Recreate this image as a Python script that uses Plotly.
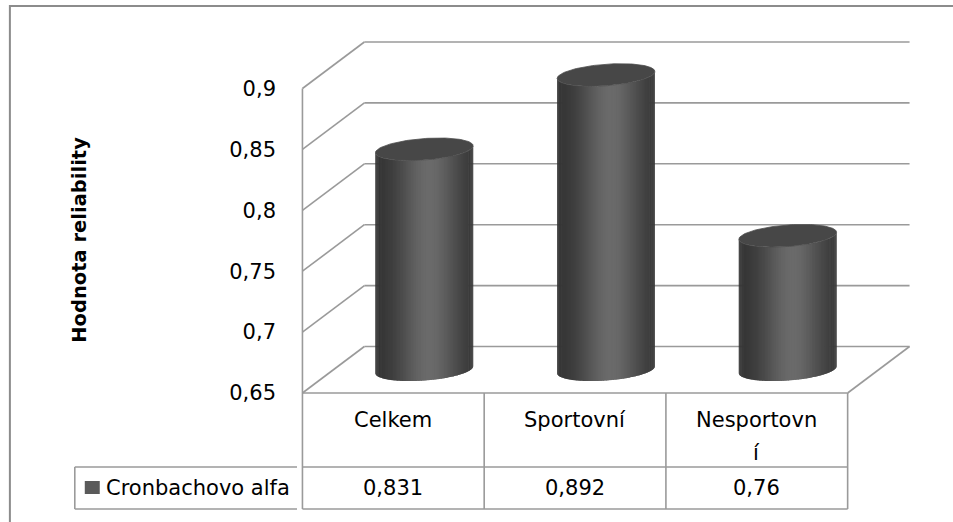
import numpy as np
import plotly.graph_objects as go

# ---------------- data ----------------
categories = ["Celkem", "Sportovní", "Nesportovní"]
series_name = "Cronbachovo alfa"
values = [0.831, 0.892, 0.76]
y_ticks = [0.65, 0.70, 0.75, 0.80, 0.85, 0.90]
axis_title = "Hodnota reliability"

# ---------------- layout constants ----------------
W, H = 953, 522
FRONT_X0_PX = 302          # pixel of category axis start (x = 0)
FRONT_FLOOR_PX = 393       # pixel of front floor (y = 0.65)
PX_PER_CAT = 182.0
PX_PER_UNIT = 1218.0
DX = 62 / PX_PER_CAT       # depth offset in category units
DY = 46.5 / PX_PER_UNIT    # depth offset in value units
Y_FLOOR = y_ticks[0]
Y_TOP = y_ticks[-1]
N = len(categories)

X_RANGE = [-0.03, N + DX + 0.03]
PLOT_L = FRONT_X0_PX + X_RANGE[0] * PX_PER_CAT
PLOT_R = FRONT_X0_PX + X_RANGE[1] * PX_PER_CAT
PLOT_T, PLOT_B = 28, 513
Y_RANGE = [Y_FLOOR - (PLOT_B - FRONT_FLOOR_PX) / PX_PER_UNIT,
           Y_FLOOR + (FRONT_FLOOR_PX - PLOT_T) / PX_PER_UNIT]

ROW1_BOTTOM = Y_FLOOR - 74 / PX_PER_UNIT
ROW2_BOTTOM = Y_FLOOR - 116 / PX_PER_UNIT
LABEL_LINE1 = Y_FLOOR - 27 / PX_PER_UNIT
LABEL_LINE_STEP = 33 / PX_PER_UNIT


def pxx(p):
    return (p - PLOT_L) / (PLOT_R - PLOT_L)


def pxy(p):
    return (PLOT_B - p) / (PLOT_B - PLOT_T)


GRID = "#9a9a9a"
LW = 1.6
FONT = "DejaVu Sans"
FS = 21

shapes = []


def line(x0, y0, x1, y1, xref="x", yref="y", color=GRID, width=LW):
    shapes.append(dict(type="line", x0=x0, y0=y0, x1=x1, y1=y1, xref=xref, yref=yref,
                       line=dict(color=color, width=width), layer="below"))


# back wall gridlines and side wall diagonals
for v in y_ticks:
    line(DX, v + DY, N + DX, v + DY)
    line(0, v, DX, v + DY)
# floor right edge
line(N, Y_FLOOR, N + DX, Y_FLOOR + DY)
# front axis line (down through table)
line(0, Y_TOP, 0, ROW2_BOTTOM)
# table
line(0, Y_FLOOR, N, Y_FLOOR)
line(0, ROW1_BOTTOM, N, ROW1_BOTTOM)
line(0, ROW2_BOTTOM, N, ROW2_BOTTOM)
for i in range(1, N + 1):
    line(i, Y_FLOOR, i, ROW2_BOTTOM)
leg_left = pxx(74)
line(leg_left, ROW1_BOTTOM, 0, ROW1_BOTTOM, xref="paper")
line(leg_left, ROW2_BOTTOM, 0, ROW2_BOTTOM, xref="paper")
line(leg_left, ROW1_BOTTOM, leg_left, ROW2_BOTTOM, xref="paper")
# legend key
shapes.append(dict(type="rect", xref="paper", yref="paper",
                   x0=pxx(84), x1=pxx(99), y0=pxy(494), y1=pxy(481),
                   fillcolor="#5a5a5a", line=dict(width=0)))
# outer frame
shapes.append(dict(type="path", xref="paper", yref="paper",
                   path=f"M {pxx(9)},{pxy(540)} L {pxx(9)},{pxy(6)} L {pxx(970)},{pxy(6)}",
                   line=dict(color="#8c8c8c", width=2)))

# ---------------- cylinders ----------------
RX = 0.256
RD = 0.243
phi = np.arctan2(RD * DX, RX)


def ell(i, v, t):
    d = 0.5 + RD * np.sin(t)
    return i + 0.5 + RX * np.cos(t) + d * DX, v + d * DY


traces = []
NS = 90
dark, light = 0x31, 0x6a
step = np.pi / NS
for k in range(NS):
    t0 = np.pi + phi + k * step
    t1 = min(t0 + 1.8 * step, 2 * np.pi + phi)
    tm = t0 + 0.5 * step
    u = (1 + np.cos(tm - phi)) / 2
    f = np.exp(-((u - 0.55) / 0.32) ** 2)
    c = int(round(dark + (light - dark) * f))
    col = f"rgb({c},{c},{c})"
    xs, ys = [], []
    for i, v in enumerate(values):
        sub = np.linspace(t0, t1, 3)
        pts = [ell(i, Y_FLOOR, s) for s in sub] + [ell(i, v, s) for s in sub[::-1]]
        for xx, yy in pts:
            xs.append(xx)
            ys.append(yy)
        xs.append(pts[0][0])
        ys.append(pts[0][1])
        xs.append(None)
        ys.append(None)
    traces.append(go.Scatter(x=xs, y=ys, mode="lines", fill="toself", fillcolor=col,
                             line=dict(width=0), hoverinfo="skip", showlegend=False))

tt = np.linspace(0, 2 * np.pi, 140)
cx, cy = [], []
for i, v in enumerate(values):
    xx, yy = ell(i, v, tt)
    cx += list(xx) + [None]
    cy += list(yy) + [None]
traces.append(go.Scatter(x=cx, y=cy, mode="lines", fill="toself", fillcolor="#474747",
                         line=dict(color="#4d4d4d", width=0.8), hoverinfo="skip",
                         showlegend=False, name=series_name))

fig = go.Figure(traces)

# ---------------- annotations ----------------
def fmt(v):
    s = f"{v:.3f}".rstrip("0").rstrip(".")
    return s.replace(".", ",")


def wrap(s, n=10):
    return [s[j:j + n] for j in range(0, len(s), n)]


ann = []
for i, (cat, v) in enumerate(zip(categories, values)):
    for li, part in enumerate(wrap(cat)):
        ann.append(dict(x=i + 0.5, y=LABEL_LINE1 - li * LABEL_LINE_STEP, xref="x", yref="y",
                        text=part, showarrow=False, yanchor="middle", xanchor="center",
                        font=dict(family=FONT, size=FS, color="black")))
    ann.append(dict(x=i + 0.5, y=(ROW1_BOTTOM + ROW2_BOTTOM) / 2, xref="x", yref="y",
                    text=fmt(v), showarrow=False, yanchor="middle", xanchor="center",
                    font=dict(family=FONT, size=FS, color="black")))
ann.append(dict(x=pxx(103), y=(ROW1_BOTTOM + ROW2_BOTTOM) / 2, xref="paper", yref="y",
                text=series_name, showarrow=False, xanchor="left", yanchor="middle",
                font=dict(family=FONT, size=FS, color="black")))
ann.append(dict(x=pxx(78), y=pxy(240), xref="paper", yref="paper", text=f"<b>{axis_title}</b>",
                textangle=-90, showarrow=False, xanchor="center", yanchor="middle",
                font=dict(family=FONT, size=19.5, color="black")))

fig.update_layout(
    width=W, height=H, autosize=False,
    margin=dict(l=PLOT_L, r=W - PLOT_R, t=PLOT_T, b=H - PLOT_B, autoexpand=False),
    paper_bgcolor="white", plot_bgcolor="white",
    showlegend=False,
    shapes=shapes, annotations=ann,
    xaxis=dict(range=X_RANGE, visible=False, fixedrange=True),
    yaxis=dict(range=Y_RANGE, tickvals=y_ticks, ticktext=[fmt(v) for v in y_ticks],
               showgrid=False, zeroline=False, showline=False, ticks="",
               ticklabelstandoff=20, automargin=False, fixedrange=True,
               tickfont=dict(family=FONT, size=FS, color="black")),
)

fig.write_html("out.html")
